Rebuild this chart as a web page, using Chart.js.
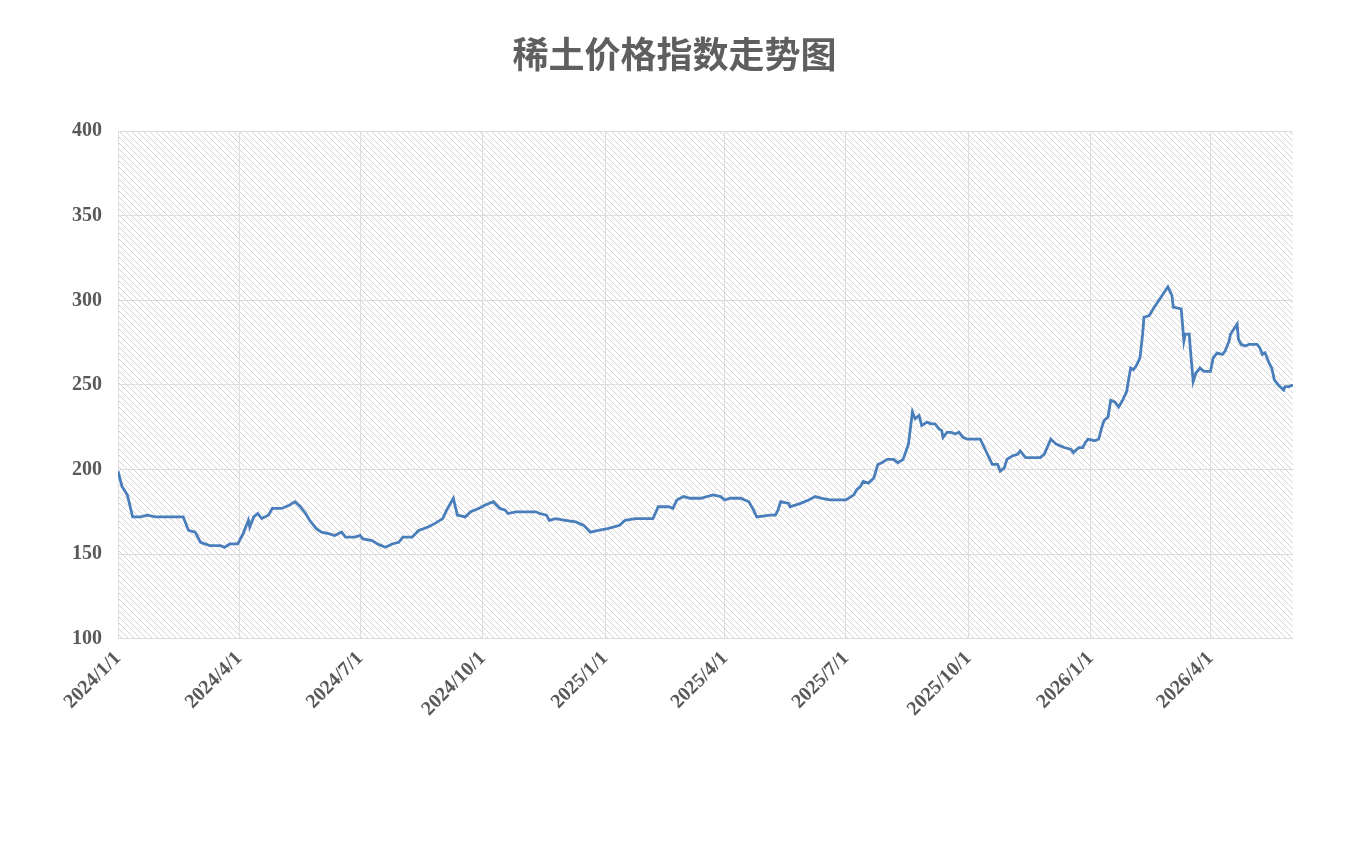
<!DOCTYPE html>
<html><head><meta charset="utf-8">
<script src="https://cdn.jsdelivr.net/npm/chart.js@4"></script>
<style>body{margin:0;background:#fff}</style></head>
<body><canvas id="c" width="1354" height="861"></canvas>
<script>
const days=[0,3,7,11,17,22,28,49,53,58,62,69,77,80,84,90,94,98,99,102,105,108,113,116,123,129,133,137,141,144,149,153,159,163,168,171,178,182,184,191,195,201,206,211,214,221,226,233,238,244,247,252,255,261,265,271,276,282,287,291,293,299,302,314,317,322,324,329,336,344,350,355,361,368,377,381,389,399,402,406,414,417,420,425,430,438,447,453,456,460,468,471,474,477,480,490,494,496,498,504,505,513,519,524,529,535,547,553,555,558,560,564,568,571,574,578,583,586,590,594,597,599,602,604,608,611,614,617,619,620,623,626,629,632,635,638,644,648,651,654,657,661,663,666,668,672,676,678,682,686,690,693,696,701,705,711,716,718,722,725,727,729,734,737,739,741,744,746,749,752,755,758,759,761,763,765,768,770,771,775,778,783,789,792,793,799,801,802,805,806,808,810,813,816,821,823,826,830,832,835,836,841,842,844,847,850,856,858,860,862,865,867,869,872,876,877,880,883];
const values=[199,190,185,172,172,173,172,172,164,163,157,155,155,154,156,156,162,170,166,172,174,171,173,177,177,179,181,178,174,170,165,163,162,161,163,160,160,161,159,158,156,154,156,157,160,160,164,166,168,171,176,183,173,172,175,177,179,181,177,176,174,175,175,175,174,173,170,171,170,169,167,163,164,165,167,170,171,171,171,178,178,177,182,184,183,183,185,184,182,183,183,182,181,177,172,173,173,176,181,180,178,180,182,184,183,182,182,185,188,190,193,192,195,203,204,206,206,204,206,215,234,230,232,226,228,227,227,224,223,219,222,222,221,222,219,218,218,218,213,208,203,203,199,201,206,208,209,211,207,207,207,207,209,218,215,213,212,210,213,213,216,218,217,218,224,229,231,241,240,237,241,246,251,260,259,261,266,280,290,291,295,301,308,303,296,295,276,280,280,270,252,257,260,258,258,266,269,268,270,276,280,286,277,274,273,274,274,272,268,269,263,260,253,250,247,249,249,250];
const tickDays=[0,91,182,274,366,456,547,639,731,821];
const tickLabels=['2024/1/1','2024/4/1','2024/7/1','2024/10/1','2025/1/1','2025/4/1','2025/7/1','2025/10/1','2026/1/1','2026/4/1'];
const title='稀土价格指数走势图';

const pc=document.createElement('canvas');pc.width=6;pc.height=6;
const px=pc.getContext('2d');px.strokeStyle='#d4d4d4';px.lineWidth=1;
px.beginPath();px.moveTo(-1,-1);px.lineTo(7,7);px.moveTo(-4,2);px.lineTo(2,8);px.moveTo(2,-4);px.lineTo(8,2);px.stroke();
const hatch={id:'hatch',beforeDraw(ch){const a=ch.chartArea,c=ch.ctx;c.save();c.fillStyle=c.createPattern(pc,'repeat');c.fillRect(a.left,a.top,a.right-a.left,a.bottom-a.top);c.restore();}};
const tf={family:'"Liberation Serif","Times New Roman",serif',size:20,weight:'bold'};
new Chart(document.getElementById('c'),{type:'line',
data:{datasets:[{data:days.map((d,i)=>({x:d,y:values[i]})),borderColor:'#4a7ebb',borderWidth:2.8,pointRadius:0,tension:0}]},
options:{responsive:false,animation:false,
layout:{padding:{left:56,right:61,top:33,bottom:132}},
plugins:{legend:{display:false},tooltip:{enabled:false},
title:{display:true,text:title,color:'#5f5f5f',font:{family:'"Noto Sans CJK SC",sans-serif',size:36,weight:'600'},padding:{top:0,bottom:55}}},
scales:{x:{type:'linear',min:0,max:883,afterBuildTicks:s=>{s.ticks=tickDays.map(v=>({value:v}));},
ticks:{callback:(v)=>tickLabels[tickDays.indexOf(v)],minRotation:45,maxRotation:45,color:'#595959',font:tf,autoSkip:false,padding:8},
grid:{color:'#dcdcdc',drawTicks:false},border:{display:false}},
y:{min:100,max:400,ticks:{stepSize:50,color:'#595959',font:tf,padding:16},grid:{color:'#dcdcdc',drawTicks:false},border:{display:false}}}},
plugins:[hatch]});
</script></body></html>
